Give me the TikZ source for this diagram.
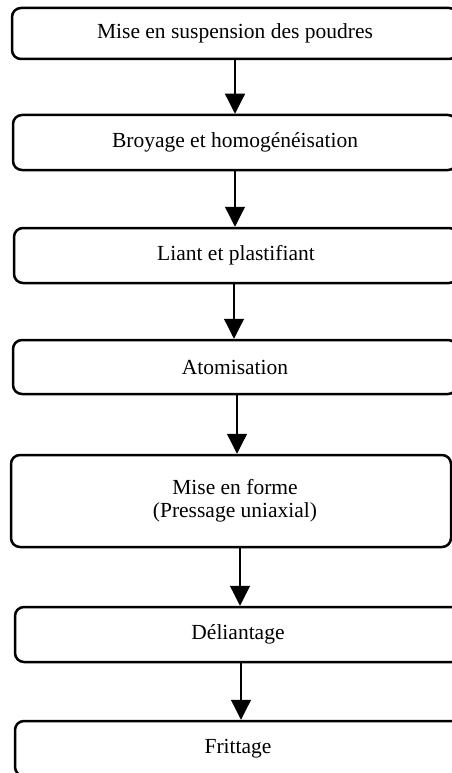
\documentclass[tikz,border=0pt]{standalone}
\usepackage{fontspec}
\setmainfont{Liberation Serif}
\usetikzlibrary{arrows.meta}
\begin{document}
\begin{tikzpicture}[x=1pt,y=-1pt,
  stepbox/.style={draw=black,line width=2.5pt,rounded corners=9pt,inner sep=0pt,font=\fontsize{21.5}{23}\selectfont,align=center},
  arr/.style={line width=1.3pt,-{Triangle[width=20pt,length=20pt]}}]
\useasboundingbox (0,0) rectangle (452,773);
\clip (0,0) rectangle (452,773);
\node[stepbox,minimum width=446pt,minimum height=51pt] (b1) at (235,33.5) {Mise en suspension des poudres};
\node[stepbox,minimum width=444pt,minimum height=55pt] (b2) at (235,142.5) {Broyage et homogénéisation};
\node[stepbox,minimum width=444pt,minimum height=55pt] (b3) at (236,255.5) {Liant et plastifiant};
\node[stepbox,minimum width=444pt,minimum height=54pt] (b4) at (235,367) {Atomisation};
\node[stepbox,minimum width=440pt,minimum height=92pt] (b5) at (231,501) {\hspace*{8pt}\raisebox{10pt}{\begin{tabular}{@{}c@{}}Mise en forme\\(Pressage uniaxial)\end{tabular}}};
\node[stepbox,minimum width=446pt,minimum height=55pt] (b6) at (238,634.5) {Déliantage};
\node[stepbox,minimum width=446pt,minimum height=55pt] (b7) at (238,748.5) {Frittage};
\coordinate (a1) at (235,0);
\coordinate (a2) at (235,0);
\coordinate (a3) at (234,0);
\coordinate (a4) at (237,0);
\coordinate (a5) at (240,0);
\coordinate (a6) at (241,0);
\draw[arr] (b1.south -| a1) -- (b2.north -| a1);
\draw[arr] (b2.south -| a2) -- (b3.north -| a2);
\draw[arr] (b3.south -| a3) -- (b4.north -| a3);
\draw[arr] (b4.south -| a4) -- (b5.north -| a4);
\draw[arr] (b5.south -| a5) -- (b6.north -| a5);
\draw[arr] (b6.south -| a6) -- (b7.north -| a6);
\end{tikzpicture}
\end{document}
